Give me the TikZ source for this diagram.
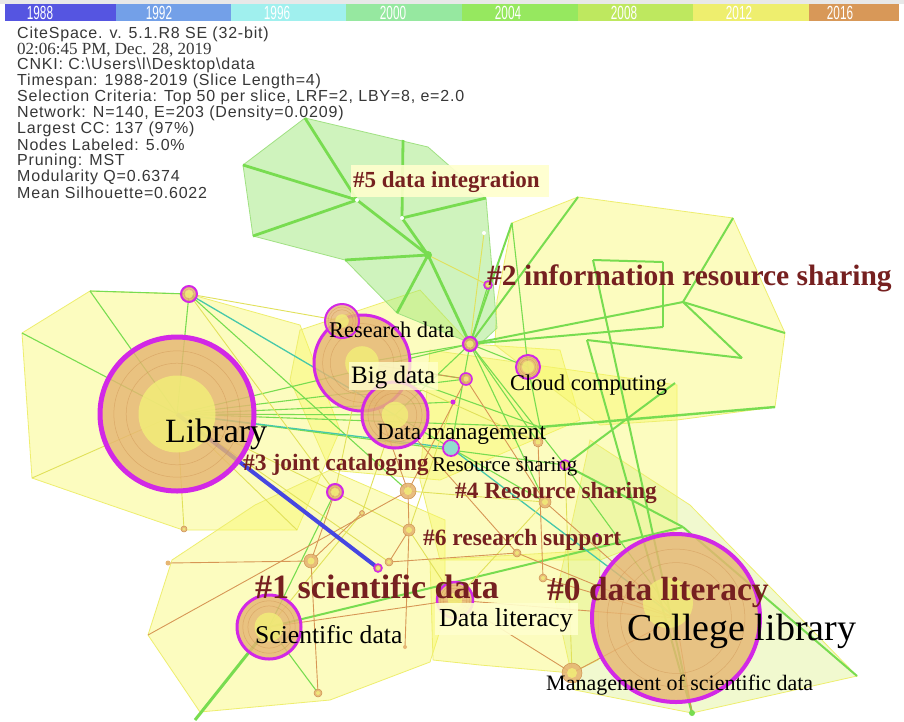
\documentclass[tikz,border=0pt]{standalone}
\usepackage{fontspec}
\setmainfont{Liberation Serif}
\newfontfamily\infofont[LetterSpace=5]{Liberation Sans}
\newfontfamily\barfont{Liberation Sans}
\definecolor{hullYc}{RGB}{248,248,96}
\definecolor{hullYe}{RGB}{238,238,110}
\definecolor{hullGc}{RGB}{150,230,110}
\definecolor{hullGe}{RGB}{160,225,130}
\definecolor{hull0c}{RGB}{215,240,120}
\definecolor{edgeG}{RGB}{120,220,80}
\definecolor{edgeO}{RGB}{215,150,85}
\definecolor{edgeY}{RGB}{225,225,90}
\definecolor{edgeT}{RGB}{70,200,170}
\definecolor{ringM}{RGB}{210,40,230}
\definecolor{nodeO}{RGB}{230,182,115}
\definecolor{nodeOd}{RGB}{205,145,80}
\definecolor{nodeY}{RGB}{242,240,120}
\definecolor{clusT}{RGB}{118,32,32}
\definecolor{infoT}{RGB}{55,55,55}
\definecolor{blueE}{RGB}{70,70,225}
\definecolor{lblbox}{RGB}{255,255,205}
\definecolor{y88}{RGB}{85,85,225}
\definecolor{y92}{RGB}{115,160,232}
\definecolor{y96}{RGB}{160,240,238}
\definecolor{y00}{RGB}{150,232,160}
\definecolor{y04}{RGB}{150,232,95}
\definecolor{y08}{RGB}{190,232,95}
\definecolor{y12}{RGB}{238,238,110}
\definecolor{y16}{RGB}{216,152,88}
% coordinate, radius, ring width, core ratio
\newcommand\ringnode[4]{%
  \fill[nodeO, fill opacity=0.82] (#1) circle[radius={#2pt}];
  \draw[nodeOd, line width=0.5, opacity=0.5] (#1) circle[radius={0.82*#2pt}];
  \draw[nodeOd, line width=0.5, opacity=0.5] (#1) circle[radius={0.66*#2pt}];
  \fill[nodeY, fill opacity=0.8] (#1) circle[radius={#4*#2pt}];
  \draw[ringM, line width=#3] (#1) circle[radius={#2pt}];
}
\newcommand\onode[2]{%
  \fill[nodeO, fill opacity=0.9] (#1) circle[radius={#2pt}];
  \fill[nodeY, opacity=0.8] (#1) circle[radius={0.5*#2pt}];
  \draw[nodeOd, line width=0.5] (#1) circle[radius={#2pt}];
}
\begin{document}
\begin{tikzpicture}[x=1pt,y=-1pt,
  hullY/.style={fill=hullYc, fill opacity=0.4, draw=hullYe, line width=0.8},
  hullZ/.style={fill=hull0c, fill opacity=0.35, draw=hullYe, line width=0.8},
  hullG/.style={fill=hullGc, fill opacity=0.45, draw=hullGe, line width=0.8},
  eg/.style={draw=edgeG, line width=1.1},
  egm/.style={draw=edgeG, line width=2},
  egt/.style={draw=edgeG, line width=2.8},
  eo/.style={draw=edgeO, line width=0.9},
  ey/.style={draw=edgeY, line width=0.9},
  et/.style={draw=edgeT, line width=1.3},
  barseg/.style={rectangle, inner sep=0pt, minimum height=17pt},
  yearlbl/.style={inner sep=0pt, text=white, font=\barfont\fontsize{19}{19}\selectfont},
  lbl/.style={anchor=base west, inner sep=0pt, text=black},
  clus/.style={anchor=base west, inner sep=0pt, text=clusT},
  info/.style={anchor=west, inner sep=0pt, text=infoT, font=\infofont\fontsize{16}{18}\selectfont},
]
\useasboundingbox (0,0) rectangle (904,721);
\fill[white] (0,0) rectangle (904,721);
\fill[black!9] (0,0) rectangle (904,4);
% ---------- year bar ----------
\node[barseg, fill=y88, minimum width=111pt] (b1988) at (60.5,12.5) {};
\node[barseg, fill=y92, minimum width=115pt] (b1992) at (173.5,12.5) {};
\node[barseg, fill=y96, minimum width=115pt] (b1996) at (288.5,12.5) {};
\node[barseg, fill=y00, minimum width=116pt] (b2000) at (404,12.5) {};
\node[barseg, fill=y04, minimum width=116pt] (b2004) at (520,12.5) {};
\node[barseg, fill=y08, minimum width=115pt] (b2008) at (635.5,12.5) {};
\node[barseg, fill=y12, minimum width=116pt] (b2012) at (751,12.5) {};
\node[barseg, fill=y16, minimum width=90pt] (b2016) at (854,12.5) {};
\node[yearlbl] (t1988) at (40,13) {\scalebox{0.62}[1]{1988}};
\node[yearlbl] (t1992) at (159,13) {\scalebox{0.62}[1]{1992}};
\node[yearlbl] (t1996) at (277,13) {\scalebox{0.62}[1]{1996}};
\node[yearlbl] (t2000) at (393,13) {\scalebox{0.62}[1]{2000}};
\node[yearlbl] (t2004) at (508,13) {\scalebox{0.62}[1]{2004}};
\node[yearlbl] (t2008) at (624,13) {\scalebox{0.62}[1]{2008}};
\node[yearlbl] (t2012) at (739,13) {\scalebox{0.62}[1]{2012}};
\node[yearlbl] (t2016) at (840,13) {\scalebox{0.62}[1]{2016}};
% ---------- coordinates ----------
\coordinate (lib) at (177,414);
\coordinate (big) at (362,363);
\coordinate (resd) at (342,321);
\coordinate (dman) at (395,415);
\coordinate (cloud) at (528,367);
\coordinate (rshare) at (451,448);
\coordinate (n470) at (470,344);
\coordinate (n466) at (466,379);
\coordinate (n453) at (453,402);
\coordinate (n565) at (565,465);
\coordinate (n188) at (189,294);
\coordinate (n335) at (335,492);
\coordinate (n408) at (408,491);
\coordinate (n409) at (409,530);
\coordinate (n310) at (311,561);
\coordinate (nb) at (378,568);
\coordinate (n389) at (389,562);
\coordinate (n184) at (184,529);
\coordinate (n167) at (168,563);
\coordinate (n318) at (318,693);
\coordinate (n361) at (362,513);
\coordinate (sci) at (269,627);
\coordinate (col) at (676,618);
\coordinate (colcore) at (668,603);
\coordinate (dlit) at (455,600);
\coordinate (mgmt) at (572,673);
\coordinate (n692) at (692,713);
\coordinate (o1) at (545,502);
\coordinate (o2) at (538,442);
\coordinate (o3) at (517,553);
\coordinate (o4) at (543,578);
\coordinate (o5) at (405,647);
\coordinate (n597) at (597,535);
\coordinate (n2) at (488,285);
% green cluster points
\coordinate (g1) at (243,165);
\coordinate (g2) at (305,118);
\coordinate (g3) at (403,140);
\coordinate (g4) at (486,198);
\coordinate (g5) at (484,233);
\coordinate (gh1) at (357,200);
\coordinate (gh2) at (402,218);
\coordinate (gh3) at (428,255);
\coordinate (g6) at (345,260);
\coordinate (g7) at (397,313);
\coordinate (g8) at (253,236);
% cluster #2 points
\coordinate (r1) at (512,223);
\coordinate (r2) at (578,197);
\coordinate (r3) at (733,218);
\coordinate (r4) at (785,333);
\coordinate (r5) at (775,407);
\coordinate (rh) at (683,302);
\coordinate (r6) at (742,358);
\coordinate (rb1) at (593,260);
\coordinate (rb2) at (663,262);
\coordinate (rb3) at (663,327);
\coordinate (r7) at (587,340);
\coordinate (r9) at (540,427);
\coordinate (r10) at (675,383);
% library cluster points
\coordinate (l1) at (22,333);
\coordinate (l2) at (90,291);
\coordinate (l3) at (32,478);
\coordinate (l5) at (297,530);
% others
\coordinate (s1) at (195,720);
\coordinate (s2) at (148,635);
\coordinate (e1) at (683,527);
\coordinate (e2) at (857,676);
% ---------- hulls ----------
\draw[hullY] (l1) -- (l2) -- (n188) -- (300,325) -- (340,430) -- (l5) -- (183,530) -- (110,505) -- (l3) -- cycle;
\draw[hullY] (s2) -- (172,560) -- (255,505) -- (330,470) -- (445,520) -- (445,615) -- (430,662) -- (330,700) -- (200,712) -- cycle;
\draw[hullY] (300,330) -- (420,290) -- (n470) -- (560,350) -- (580,420) -- (440,480) -- (330,470) -- (290,380) -- cycle;
\draw[hullY] (430,350) -- (677,385) -- (677,530) -- (600,560) -- (440,560) -- (420,480) -- cycle;
\draw[hullY] (430,560) -- (600,550) -- (598,660) -- (mgmt) -- (480,665) -- (433,660) -- cycle;
\draw[hullY] (r1) -- (r2) -- (r3) -- (r4) -- (r5) -- (677,420) -- (600,425) -- (495,345) -- (497,300) -- cycle;
\draw[hullZ] (590,440) -- (690,505) -- (e2) -- (n692) -- (575,690) -- (555,600) -- cycle;
\draw[hullG] (g1) -- (g2) -- (428,147) -- (g4) -- (497,328) -- (478,346) -- (g7) -- (g6) -- (g8) -- cycle;
% ---------- edges ----------
\foreach \a/\b in {gh1/g2, gh1/g1, gh1/g8, gh1/gh3, g3/gh2, gh2/g4, gh2/gh3, g6/gh3, gh3/g7, gh3/n470}
  \draw[egt] (\a) -- (\b);
\draw[ey] (g5) -- (n470);
\draw[ey] (gh3) -- (n2);
\foreach \a/\b in {r2/n470, r1/n470, r3/rh, rh/r4, rh/r6, rb1/rb2, rb2/rb3, rb3/n470, r7/r6, rh/n470, rb1/n692, r7/n692, r10/n565, e1/e2, sci/e1, e1/n565}
  \draw[egm] (\a) -- (\b);
\draw[draw=edgeG, line width=2.4] (r9) -- (r5);
\draw[draw=edgeG, line width=3] (sci) -- (s1);
\foreach \a/\b in {lib/l1, lib/l2, n188/l2, n188/lib, lib/n470, lib/n466, lib/dman, lib/r9, lib/n565, n188/n408, n470/cloud, n470/dman, n470/big, n470/rshare, n470/o2, n470/n565, n470/o1, big/n466, dman/rshare, rshare/o1, n565/col, sci/n335, sci/n318, cloud/r9, big/r9, n2/n470, r1/cloud, lib/n453}
  \draw[eg] (\a) -- (\b);
\foreach \a/\b in {lib/rshare, rshare/col, n188/dman}
  \draw[et] (\a) -- (\b);
\foreach \a/\b in {lib/n184, lib/l3, lib/n335, lib/l5, n188/n335, n335/n409, big/n335, dman/n361, n408/o1, n361/sci, n453/n409, n188/resd, lib/n389, big/o2, n409/dlit, n565/mgmt, o1/dlit}
  \draw[ey] (\a) -- (\b);
\foreach \a/\b in {s2/n408, n167/n310, n310/n318, n409/o5, n466/n408, big/n408, dman/o3, n466/o1, col/dlit, col/mgmt, col/o1, col/o3, col/o4, sci/dlit, n335/n310, n409/n389, n361/n310, mgmt/dlit, o2/o4, n408/n409, big/n466, col/n692, o3/n389}
  \draw[eo] (\a) -- (\b);
\draw[blueE, line width=4] (lib) -- (nb);
% ---------- nodes ----------
\ringnode{lib}{77}{5}{0.5}
\ringnode{big}{48}{3}{0.35}
\ringnode{resd}{17}{2}{0.4}
\ringnode{dman}{33}{3}{0.4}
\ringnode{col}{84}{4}{0}
\fill[nodeY, fill opacity=0.75] (colcore) circle[radius=25pt];
\ringnode{sci}{32}{3}{0.45}
\ringnode{dlit}{18}{2.5}{0.4}
\ringnode{cloud}{12}{2}{0.5}
\ringnode{n470}{7}{2.2}{0.5}
\ringnode{n466}{6}{1.6}{0.4}
\ringnode{n188}{8}{2}{0.5}
\ringnode{n335}{8}{2}{0.5}
\ringnode{n565}{5}{1.5}{0.5}
\ringnode{nb}{4}{1.5}{0.5}
\ringnode{n2}{4}{1.5}{0.5}
\fill[edgeT!60!white] (rshare) circle[radius=7pt];
\draw[ringM, line width=1.8] (rshare) circle[radius=8pt];
\fill[ringM] (n453) circle[radius=2.5pt];
\fill[ringM] (n597) circle[radius=2pt];
\onode{n408}{8}
\onode{n409}{6}
\onode{n310}{7}
\onode{mgmt}{10}
\onode{o1}{6}
\onode{o2}{5}
\onode{o3}{4}
\onode{o4}{4}
\onode{n389}{4}
\onode{n184}{3}
\onode{n318}{4}
\onode{n361}{2.5}
\fill[nodeO] (n167) circle[radius=2.5pt];
\fill[nodeO] (o5) circle[radius=2pt];
\fill[edgeG] (n692) circle[radius=3pt];
\fill[edgeG] (gh3) circle[radius=4pt];
\fill[white] (gh1) circle[radius=2pt];
\fill[white] (gh2) circle[radius=2pt];
\fill[white] (g5) circle[radius=2pt];
\fill[edgeG] (r9) circle[radius=2pt];
% ---------- info text ----------
\node[info] (i1) at (17,34) {CiteSpace. v. 5.1.R8 SE (32-bit)};
\node[info, font=\rmfamily\fontsize{17}{19}\selectfont] (i2) at (17,50) {02:06:45 PM, Dec. 28, 2019};
\node[info] (i3) at (17,65) {CNKI: C:\textbackslash Users\textbackslash l\textbackslash Desktop\textbackslash data};
\node[info] (i4) at (17,81) {Timespan: 1988-2019 (Slice Length=4)};
\node[info] (i5) at (17,97) {Selection Criteria: Top 50 per slice, LRF=2, LBY=8, e=2.0};
\node[info] (i6) at (17,113) {Network: N=140, E=203 (Density=0.0209)};
\node[info] (i7) at (17,129) {Largest CC: 137 (97\%)};
\node[info] (i8) at (17,145) {Nodes Labeled: 5.0\%};
\node[info] (i9) at (17,161) {Pruning: MST};
\node[info] (i10) at (17,177) {Modularity Q=0.6374};
\node[info] (i11) at (17,193) {Mean Silhouette=0.6022};
% ---------- label boxes ----------
\fill[lblbox, opacity=0.9] (351,165) rectangle (549,197);
\fill[lblbox, opacity=0.8] (349,362) rectangle (438,390);
\fill[lblbox, opacity=0.9] (435,603) rectangle (578,635);
% ---------- cluster labels ----------
\node[clus, font=\bfseries\fontsize{23}{25}\selectfont] (c5) at (353,187) {\#5 data integration};
\node[clus, font=\bfseries\fontsize{29.5}{31}\selectfont] (c2) at (487,285) {\#2 information resource sharing};
\node[clus, font=\bfseries\fontsize{23.5}{25}\selectfont] (c3) at (243,470) {\#3 joint cataloging};
\node[clus, font=\bfseries\fontsize{23.3}{25}\selectfont] (c4) at (455,498) {\#4 Resource sharing};
\node[clus, font=\bfseries\fontsize{23.4}{25}\selectfont] (c6) at (423,545) {\#6 research support};
\node[clus, font=\bfseries\fontsize{34}{36}\selectfont] (c1) at (255,598) {\#1 scientific data};
\node[clus, font=\bfseries\fontsize{33.5}{36}\selectfont] (c0) at (547,600) {\#0 data literacy};
% ---------- keyword labels ----------
\node[lbl, font=\fontsize{34}{36}\selectfont] (tlib) at (165,442) {Library};
\node[lbl, font=\fontsize{38}{40}\selectfont] (tcol) at (627,640) {College library};
\node[lbl, font=\fontsize{25}{27}\selectfont] (tbig) at (351,383) {Big data};
\node[lbl, font=\fontsize{22.4}{24}\selectfont] (tresd) at (329,337) {Research data};
\node[lbl, font=\fontsize{23.3}{25}\selectfont] (tdman) at (377,439) {Data management};
\node[lbl, font=\fontsize{22.5}{24}\selectfont] (tcloud) at (510,390) {Cloud computing};
\node[lbl, font=\fontsize{21}{23}\selectfont] (trsh) at (432,471) {Resource sharing};
\node[lbl, font=\fontsize{25.6}{27}\selectfont] (tsci) at (255,643) {Scientific data};
\node[lbl, font=\fontsize{26}{28}\selectfont] (tdlit) at (439,626) {Data literacy};
\node[lbl, font=\fontsize{22}{24}\selectfont] (tmgmt) at (546,690) {Management of scientific data};
\end{tikzpicture}
\end{document}
